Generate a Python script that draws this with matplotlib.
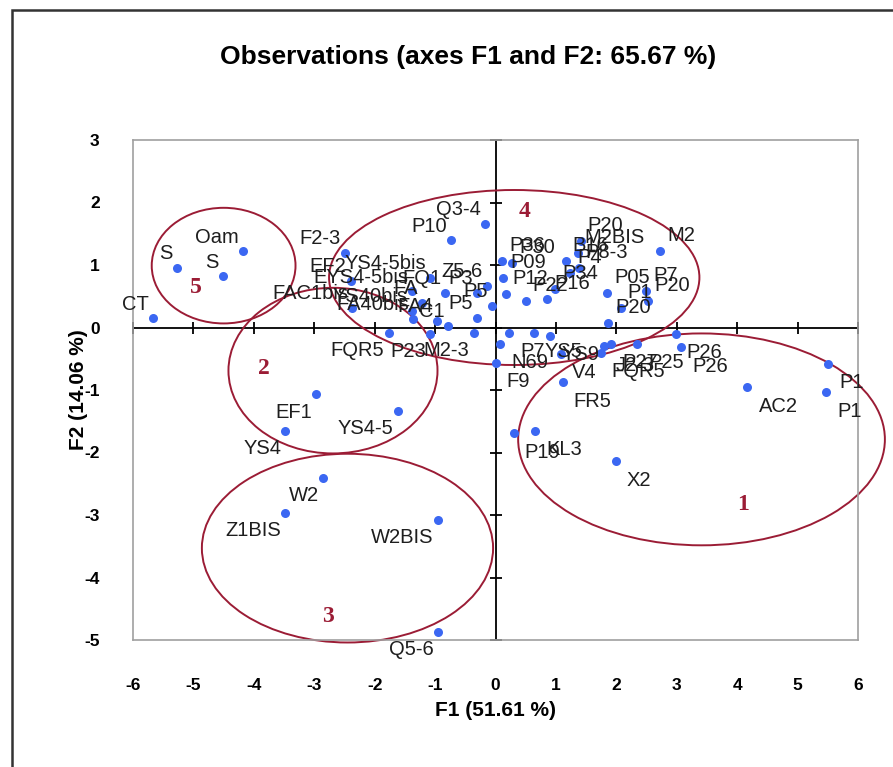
import numpy as np
import matplotlib.pyplot as plt
from matplotlib.patches import Ellipse, Rectangle

# observations (F1, F2)
labels = ['S', 'S', 'Oam', 'CT',
          'EF1', 'YS4', 'YS4-5', 'FQR5', 'P23', 'M2-3',
          'W2', 'Z1BIS', 'W2BIS', 'Q5-6',
          'F2-3', 'EF2', 'FAC1bis', 'P10', 'Q3-4', 'YS4-5bis', 'EYS4-5bis',
          'FQ1', 'Z5-6', 'FA', 'YS40bis', 'FA40bis', 'P5', 'P5', 'FA4', 'C1', 'P3',
          'P36', 'P30', 'P09', 'P12', 'P22', 'P16', 'P34', 'B16', 'P4', 'P8-3',
          'M2BIS', 'P20', 'M2', 'P05', 'P7', 'P20', 'P1', 'P20',
          'P7', 'YS5', 'YS9', 'N69', 'F9', 'V4', 'FR5', 'FQR5', 'J2-3', 'P27',
          'P25', 'P26', 'P26', 'P19', 'KL3', 'X2', 'AC2', 'P1', 'P1']
f1 = [-5.28, -4.51, -4.18, -5.67,
      -2.97, -3.48, -1.62, -1.77, -1.08, -0.36,
      -2.85, -3.48, -0.96, -0.96,
      -2.49, -2.40, -2.37, -0.73, -0.18, -1.08, -1.38,
      -0.83, -0.14, -1.21, -1.38, -1.36, -0.30, -0.05, -0.97, -0.78, -0.30,
      0.11, 0.28, 0.13, 0.17, 0.50, 0.86, 0.99, 1.16, 1.24, 1.38,
      1.36, 1.41, 2.73, 1.85, 2.49, 2.52, 2.07, 1.87,
      0.22, 0.63, 0.91, 0.08, 0.00, 1.08, 1.11, 1.74, 1.80, 1.91,
      2.35, 2.98, 3.07, 0.30, 0.66, 1.99, 4.17, 5.50, 5.47]
f2 = [0.96, 0.82, 1.22, 0.15,
      -1.07, -1.65, -1.33, -0.08, -0.10, -0.08,
      -2.40, -2.97, -3.08, -4.87,
      1.20, 0.75, 0.32, 1.40, 1.66, 0.80, 0.58,
      0.56, 0.67, 0.40, 0.27, 0.14, 0.16, 0.35, 0.11, 0.03, 0.56,
      1.07, 1.04, 0.80, 0.54, 0.43, 0.46, 0.62, 1.07, 0.88, 0.96,
      1.20, 1.39, 1.23, 0.56, 0.59, 0.43, 0.32, 0.08,
      -0.08, -0.08, -0.13, -0.26, -0.56, -0.42, -0.87, -0.40, -0.30, -0.26,
      -0.26, -0.10, -0.31, -1.69, -1.65, -2.14, -0.95, -0.58, -1.03]

# groups (ellipses)
grp_names = ['1', '2', '3', '4', '5']
grp_cx = [3.41, -2.69, -2.45, 0.31, -4.50]
grp_cy = [-1.79, -0.69, -3.53, 0.80, 0.99]
grp_w = [6.07, 3.46, 4.82, 6.13, 2.38]
grp_h = [3.39, 2.65, 3.02, 2.80, 1.85]
grp_lx = [4.09, -3.84, -2.78, 0.48, -4.96]
grp_ly = [-2.83, -0.65, -4.63, 1.85, 0.64]

xticks = np.arange(-6, 7)
yticks = np.arange(-5, 4)

plt.rcParams['axes.unicode_minus'] = False
bold_font = ['Liberation Sans', 'DejaVu Sans']
red = '#9b1c35'

fig = plt.figure(figsize=(8.93, 7.67), dpi=100)
ax = fig.add_axes([133 / 893, 127 / 767, 725 / 893, 500 / 767])

# outer frame
fig.patches.append(Rectangle((12 / 893, -0.2), 1.5, 1.2 - 10 / 767,
                             transform=fig.transFigure, fill=False,
                             edgecolor='#333333', linewidth=1.8))

ax.set_xlim(-6, 6)
ax.set_ylim(-5, 3)
for s in ax.spines.values():
    s.set_color('#a0a0a0')
    s.set_linewidth(1.2)

ax.axhline(0, color='black', lw=1.3, zorder=1)
ax.axvline(0, color='black', lw=1.3, zorder=1)
ax.plot(xticks, np.zeros_like(xticks), ls='none', marker='|', ms=9,
        mew=1.3, color='black', zorder=1, clip_on=False)
ax.plot(np.zeros_like(yticks), yticks, ls='none', marker='_', ms=9,
        mew=1.3, color='black', zorder=1, clip_on=False)

ax.set_xticks(xticks)
ax.set_yticks(yticks)
ax.tick_params(length=0, labelsize=12.5)
ax.tick_params(axis='x', pad=27)
ax.tick_params(axis='y', pad=24)
for t in ax.get_xticklabels() + ax.get_yticklabels():
    t.set_family(bold_font)
    t.set_fontweight('bold')

for i in range(len(grp_names)):
    ax.add_patch(Ellipse((grp_cx[i], grp_cy[i]), grp_w[i], grp_h[i],
                         fill=False, edgecolor=red, lw=1.4, clip_on=False,
                         zorder=2))
    ax.text(grp_lx[i], grp_ly[i], grp_names[i], color=red, fontsize=17,
            fontweight='bold', family='Liberation Serif',
            ha='center', va='center', zorder=3)

ax.plot(f1, f2, ls='none', marker='o', ms=6.5, color='#3b67f2',
        mec='none', zorder=4, clip_on=False)

for lab, x, y in zip(labels, f1, f2):
    if x < 0 and y >= 0:
        off, ha, va = (-3, 6), 'right', 'baseline'
    elif x < 0:
        off, ha, va = (-3, -6), 'right', 'top'
    elif y >= 0:
        off, ha, va = (5, 7), 'left', 'baseline'
    else:
        off, ha, va = (8, -7), 'left', 'top'
    ax.annotate(lab, (x, y), xytext=off, textcoords='offset points',
                ha=ha, va=va, fontsize=14.5, color='#1e1e1e',
                family='Liberation Sans', zorder=5)

ax.set_xlabel('F1 (51.61 %)', fontsize=15, fontweight='bold', family=bold_font)
ax.xaxis.set_label_coords(0.5, -0.122)
ax.set_ylabel('F2 (14.06 %)', fontsize=15, fontweight='bold', family=bold_font)
ax.yaxis.set_label_coords(-0.062, 0.5)

fig.text(468 / 893, 1 - 57 / 767, 'Observations (axes F1 and F2: 65.67 %)',
         ha='center', va='center', fontsize=19, fontweight='bold',
         family=bold_font)

fig.savefig('out.png', dpi=100)
